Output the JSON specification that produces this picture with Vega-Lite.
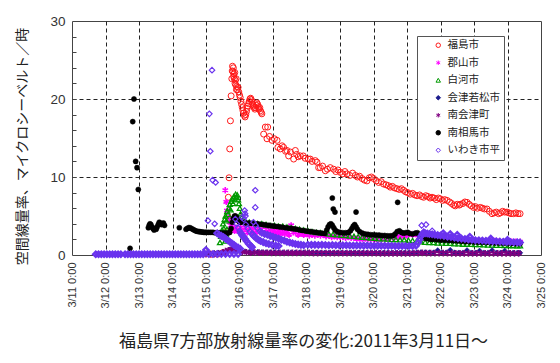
{
"$schema": "https://vega.github.io/schema/vega-lite/v6.json",
"width": 469, "height": 234,
"autosize": {"type": "none"},
"padding": {"left": 72, "top": 21, "right": 19, "bottom": 108},
"background": "white",
"config": {
  "view": {"stroke": "#444", "strokeWidth": 1},
  "font": "Liberation Sans",
  "axis": {"gridColor": "#222", "gridDash": [4, 3], "gridWidth": 1, "domain": false}
},
"data": {"values": [
{"site":"福島市","t":100,"v":0.1},{"site":"福島市","t":104,"v":0.12},{"site":"福島市","t":108,"v":0.3},{"site":"福島市","t":111,"v":3.0},{"site":"福島市","t":111.5,"v":5.0},
{"site":"福島市","t":112,"v":7.4},{"site":"福島市","t":112.5,"v":9.9},{"site":"福島市","t":113,"v":13.6},{"site":"福島市","t":113.5,"v":17.2},{"site":"福島市","t":114,"v":20.4},{"site":"福島市","t":114.5,"v":22.6},{"site":"福島市","t":114.8,"v":23.6},{"site":"福島市","t":115,"v":24.2},{"site":"福島市","t":115.3,"v":23.5},{"site":"福島市","t":115.6,"v":24.0},{"site":"福島市","t":115.8,"v":22.9},{"site":"福島市","t":116,"v":23.2},{"site":"福島市","t":116.3,"v":22.6},{"site":"福島市","t":116.6,"v":23.4},{"site":"福島市","t":116.8,"v":22.0},{"site":"福島市","t":117,"v":22.4},{"site":"福島市","t":117.3,"v":21.8},{"site":"福島市","t":117.6,"v":22.6},{"site":"福島市","t":117.8,"v":21.2},{"site":"福島市","t":118,"v":21.6},{"site":"福島市","t":118.5,"v":21.2},{"site":"福島市","t":119,"v":21.5},{"site":"福島市","t":119.5,"v":20.9},{"site":"福島市","t":120,"v":20.5},{"site":"福島市","t":120.5,"v":20.2},{"site":"福島市","t":121,"v":19.7},{"site":"福島市","t":121.5,"v":19.3},{"site":"福島市","t":122,"v":18.9},{"site":"福島市","t":122.5,"v":18.5},{"site":"福島市","t":123,"v":18.2},{"site":"福島市","t":123.5,"v":17.9},{"site":"福島市","t":124,"v":17.7},{"site":"福島市","t":124.5,"v":18.0},{"site":"福島市","t":125,"v":18.4},{"site":"福島市","t":125.5,"v":18.8},{"site":"福島市","t":126,"v":19.1},{"site":"福島市","t":126.5,"v":19.4},{"site":"福島市","t":127,"v":19.7},{"site":"福島市","t":127.5,"v":20.0},{"site":"福島市","t":128,"v":20.1},{"site":"福島市","t":128.5,"v":19.9},{"site":"福島市","t":129,"v":19.6},{"site":"福島市","t":129.5,"v":19.3},{"site":"福島市","t":130,"v":19.1},{"site":"福島市","t":130.5,"v":18.9},{"site":"福島市","t":131,"v":18.7},{"site":"福島市","t":131.5,"v":18.9},{"site":"福島市","t":132,"v":19.2},{"site":"福島市","t":132.5,"v":19.5},{"site":"福島市","t":133,"v":19.3},{"site":"福島市","t":133.5,"v":19.0},{"site":"福島市","t":134,"v":18.7},{"site":"福島市","t":134.5,"v":18.9},{"site":"福島市","t":135,"v":18.5},{"site":"福島市","t":135.5,"v":18.3},{"site":"福島市","t":136,"v":18.1},
{"site":"福島市","t":137.3,"v":15.5},{"site":"福島市","t":138.5,"v":16.4},{"site":"福島市","t":139.7,"v":14.9},{"site":"福島市","t":140.2,"v":16.4},{"site":"福島市","t":141.5,"v":15.2},{"site":"福島市","t":143.3,"v":14.7},{"site":"福島市","t":145,"v":14.9},{"site":"福島市","t":146.9,"v":14.7},{"site":"福島市","t":147.5,"v":13.8},{"site":"福島市","t":149.2,"v":13.6},{"site":"福島市","t":150.5,"v":14.0},{"site":"福島市","t":151.6,"v":13.8},{"site":"福島市","t":153,"v":13.3},{"site":"福島市","t":154,"v":13.4},{"site":"福島市","t":155.2,"v":12.7},{"site":"福島市","t":156.5,"v":13.2},{"site":"福島市","t":158.8,"v":12.3},{"site":"福島市","t":160,"v":13.4},{"site":"福島市","t":161,"v":12.9},{"site":"福島市","t":162.1,"v":12.6},{"site":"福島市","t":163.6,"v":12.7},{"site":"福島市","t":165.7,"v":12.7},{"site":"福島市","t":167,"v":12.4},{"site":"福島市","t":169.3,"v":12.3},{"site":"福島市","t":170.7,"v":12.3},{"site":"福島市","t":172,"v":12.0},{"site":"福島市","t":174.3,"v":12.1},{"site":"福島市","t":175.5,"v":11.9},{"site":"福島市","t":176.7,"v":11.2},{"site":"福島市","t":177.9,"v":11.2},{"site":"福島市","t":179.5,"v":11.4},{"site":"福島市","t":181.5,"v":10.8},{"site":"福島市","t":183,"v":11.0},{"site":"福島市","t":185,"v":11.2},{"site":"福島市","t":187.4,"v":11.0},{"site":"福島市","t":189,"v":10.7},{"site":"福島市","t":190.5,"v":10.9},{"site":"福島市","t":192.2,"v":10.6},{"site":"福島市","t":194,"v":10.4},{"site":"福島市","t":195.5,"v":10.7},{"site":"福島市","t":197,"v":10.4},{"site":"福島市","t":199,"v":10.2},{"site":"福島市","t":201,"v":10.5},{"site":"福島市","t":203,"v":10.2},{"site":"福島市","t":204.5,"v":10.0},{"site":"福島市","t":206,"v":10.1},{"site":"福島市","t":207.8,"v":9.8},{"site":"福島市","t":209.5,"v":9.6},{"site":"福島市","t":211.3,"v":9.5},{"site":"福島市","t":213,"v":9.9},{"site":"福島市","t":214.5,"v":10.0},{"site":"福島市","t":216.1,"v":9.8},{"site":"福島市","t":218,"v":9.5},{"site":"福島市","t":219.7,"v":9.3},{"site":"福島市","t":221.5,"v":9.4},{"site":"福島市","t":223.2,"v":9.1},{"site":"福島市","t":225,"v":9.0},{"site":"福島市","t":226.5,"v":8.9},{"site":"福島市","t":228,"v":8.7},{"site":"福島市","t":229.5,"v":8.8},{"site":"福島市","t":231,"v":8.6},{"site":"福島市","t":232.8,"v":8.5},{"site":"福島市","t":234.5,"v":8.4},{"site":"福島市","t":236,"v":8.5},{"site":"福島市","t":237.6,"v":8.3},{"site":"福島市","t":239,"v":8.1},{"site":"福島市","t":240.5,"v":8.0},{"site":"福島市","t":242.4,"v":7.8},{"site":"福島市","t":244,"v":7.9},{"site":"福島市","t":245.5,"v":7.7},{"site":"福島市","t":247.2,"v":7.6},{"site":"福島市","t":249,"v":7.7},{"site":"福島市","t":250.5,"v":7.5},{"site":"福島市","t":251.9,"v":7.4},{"site":"福島市","t":253.5,"v":7.6},{"site":"福島市","t":255,"v":7.5},{"site":"福島市","t":256.5,"v":7.3},{"site":"福島市","t":257.9,"v":7.4},{"site":"福島市","t":259.5,"v":7.3},{"site":"福島市","t":261,"v":7.1},{"site":"福島市","t":262.5,"v":7.3},{"site":"福島市","t":263.9,"v":7.2},{"site":"福島市","t":265.5,"v":7.0},{"site":"福島市","t":267,"v":7.1},{"site":"福島市","t":268.7,"v":7.0},{"site":"福島市","t":270.5,"v":6.8},{"site":"福島市","t":272,"v":6.6},{"site":"福島市","t":273.5,"v":6.4},{"site":"福島市","t":274.6,"v":6.3},{"site":"福島市","t":276,"v":6.5},{"site":"福島市","t":277.5,"v":6.4},{"site":"福島市","t":278.2,"v":6.5},{"site":"福島市","t":280,"v":6.6},{"site":"福島市","t":281.5,"v":6.8},{"site":"福島市","t":283,"v":6.75},{"site":"福島市","t":284.5,"v":6.5},{"site":"福島市","t":286,"v":6.3},{"site":"福島市","t":287.7,"v":6.1},{"site":"福島市","t":289,"v":6.2},{"site":"福島市","t":290.5,"v":6.0},{"site":"福島市","t":292.5,"v":6.1},{"site":"福島市","t":294,"v":6.0},{"site":"福島市","t":295.5,"v":5.9},{"site":"福島市","t":297.3,"v":5.9},{"site":"福島市","t":299,"v":5.6},{"site":"福島市","t":300.9,"v":5.3},{"site":"福島市","t":302.5,"v":5.4},{"site":"福島市","t":304,"v":5.5},{"site":"福島市","t":305.6,"v":5.3},{"site":"福島市","t":307,"v":5.4},{"site":"福島市","t":308.5,"v":5.6},{"site":"福島市","t":310,"v":5.5},{"site":"福島市","t":311.6,"v":5.5},{"site":"福島市","t":313,"v":5.4},{"site":"福島市","t":314.5,"v":5.3},{"site":"福島市","t":316.4,"v":5.3},{"site":"福島市","t":318,"v":5.4},{"site":"福島市","t":319.5,"v":5.3},{"site":"福島市","t":321,"v":5.3},
{"site":"郡山市","t":109.8,"v":8.3},{"site":"郡山市","t":110.5,"v":6.8},{"site":"郡山市","t":111,"v":5.7},{"site":"郡山市","t":112,"v":4.8},{"site":"郡山市","t":113,"v":4.2},{"site":"郡山市","t":114,"v":3.8},{"site":"郡山市","t":115,"v":3.6},{"site":"郡山市","t":116.5,"v":3.1},{"site":"郡山市","t":118,"v":3.5},{"site":"郡山市","t":119.5,"v":3.0},{"site":"郡山市","t":121,"v":3.5},{"site":"郡山市","t":122.5,"v":2.9},{"site":"郡山市","t":124,"v":3.5},{"site":"郡山市","t":125.5,"v":2.9},{"site":"郡山市","t":127,"v":3.5},{"site":"郡山市","t":128.5,"v":2.9},{"site":"郡山市","t":130,"v":3.4},{"site":"郡山市","t":131.5,"v":2.9},{"site":"郡山市","t":133,"v":3.4},{"site":"郡山市","t":134.5,"v":2.9},{"site":"郡山市","t":136,"v":3.3},{"site":"郡山市","t":137.5,"v":2.8},{"site":"郡山市","t":139,"v":3.3},{"site":"郡山市","t":140.5,"v":2.8},{"site":"郡山市","t":142,"v":3.2},{"site":"郡山市","t":143.5,"v":2.8},{"site":"郡山市","t":145,"v":3.1},{"site":"郡山市","t":146.5,"v":2.7},{"site":"郡山市","t":148,"v":3.1},{"site":"郡山市","t":149.5,"v":2.7},{"site":"郡山市","t":151,"v":3.0},{"site":"郡山市","t":152.5,"v":2.7},{"site":"郡山市","t":154,"v":3.0},{"site":"郡山市","t":155.5,"v":2.6},{"site":"郡山市","t":157,"v":3.8},{"site":"郡山市","t":158.5,"v":2.9},{"site":"郡山市","t":160,"v":2.9},{"site":"郡山市","t":162,"v":2.6},{"site":"郡山市","t":164,"v":2.8},{"site":"郡山市","t":166,"v":2.6},{"site":"郡山市","t":168,"v":2.7},{"site":"郡山市","t":170,"v":2.5},{"site":"郡山市","t":172,"v":2.6},{"site":"郡山市","t":174,"v":2.5},{"site":"郡山市","t":176,"v":2.6},{"site":"郡山市","t":178,"v":2.5},{"site":"郡山市","t":180,"v":2.6},{"site":"郡山市","t":182,"v":2.4},{"site":"郡山市","t":184,"v":2.5},{"site":"郡山市","t":186,"v":2.3},{"site":"郡山市","t":188,"v":2.4},{"site":"郡山市","t":190,"v":2.3},{"site":"郡山市","t":192,"v":2.3},{"site":"郡山市","t":194,"v":2.3},{"site":"郡山市","t":196,"v":2.2},{"site":"郡山市","t":198,"v":2.3},{"site":"郡山市","t":200,"v":2.2},{"site":"郡山市","t":202,"v":2.2},{"site":"郡山市","t":204,"v":2.1},{"site":"郡山市","t":206,"v":2.1},{"site":"郡山市","t":208,"v":2.05},{"site":"郡山市","t":210,"v":2.1},{"site":"郡山市","t":212,"v":2.0},{"site":"郡山市","t":214,"v":2.1},{"site":"郡山市","t":216,"v":2.0},{"site":"郡山市","t":218,"v":2.05},{"site":"郡山市","t":220,"v":2.0},{"site":"郡山市","t":222,"v":2.05},{"site":"郡山市","t":224,"v":2.0},{"site":"郡山市","t":226,"v":2.1},{"site":"郡山市","t":228,"v":2.2},{"site":"郡山市","t":230,"v":2.2},{"site":"郡山市","t":232,"v":2.3},{"site":"郡山市","t":234,"v":2.3},{"site":"郡山市","t":236,"v":2.3},{"site":"郡山市","t":238,"v":2.4},{"site":"郡山市","t":240,"v":2.5},{"site":"郡山市","t":242,"v":2.7},{"site":"郡山市","t":244,"v":2.6},{"site":"郡山市","t":246,"v":2.7},{"site":"郡山市","t":248,"v":2.5},{"site":"郡山市","t":250,"v":2.4},{"site":"郡山市","t":252,"v":2.3},{"site":"郡山市","t":255,"v":2.3},{"site":"郡山市","t":258,"v":2.2},{"site":"郡山市","t":261,"v":2.2},{"site":"郡山市","t":264,"v":2.1},{"site":"郡山市","t":267,"v":2.1},{"site":"郡山市","t":270,"v":2.0},{"site":"郡山市","t":273,"v":2.0},{"site":"郡山市","t":276,"v":2.0},{"site":"郡山市","t":279,"v":1.95},{"site":"郡山市","t":282,"v":1.95},{"site":"郡山市","t":285,"v":1.9},{"site":"郡山市","t":288,"v":1.9},{"site":"郡山市","t":291,"v":1.85},{"site":"郡山市","t":294,"v":1.85},{"site":"郡山市","t":297,"v":1.8},{"site":"郡山市","t":300,"v":1.8},{"site":"郡山市","t":303,"v":1.8},{"site":"郡山市","t":306,"v":1.75},{"site":"郡山市","t":309,"v":1.75},{"site":"郡山市","t":312,"v":1.7},{"site":"郡山市","t":315,"v":1.7},{"site":"郡山市","t":318,"v":1.7},{"site":"郡山市","t":321,"v":1.7},
{"site":"白河市","t":106,"v":1.6},{"site":"白河市","t":106.8,"v":2.4},{"site":"白河市","t":107.5,"v":3.2},{"site":"白河市","t":108.2,"v":4.0},{"site":"白河市","t":108.8,"v":3.4},{"site":"白河市","t":109.4,"v":4.6},{"site":"白河市","t":109.8,"v":1.8},{"site":"白河市","t":110,"v":5.0},{"site":"白河市","t":110.4,"v":2.6},{"site":"白河市","t":110.6,"v":4.4},{"site":"白河市","t":111,"v":3.3},{"site":"白河市","t":111.2,"v":5.6},{"site":"白河市","t":111.8,"v":5.2},{"site":"白河市","t":112.4,"v":6.0},{"site":"白河市","t":113,"v":6.5},{"site":"白河市","t":113.6,"v":5.8},{"site":"白河市","t":114.2,"v":6.9},{"site":"白河市","t":114.8,"v":7.2},{"site":"白河市","t":115.4,"v":6.6},{"site":"白河市","t":116,"v":7.5},{"site":"白河市","t":116.6,"v":7.2},{"site":"白河市","t":117.2,"v":7.8},{"site":"白河市","t":117.8,"v":7.4},{"site":"白河市","t":118.4,"v":7.7},{"site":"白河市","t":119,"v":7.1},{"site":"白河市","t":119.6,"v":6.6},{"site":"白河市","t":120.2,"v":6.0},{"site":"白河市","t":120.8,"v":5.3},{"site":"白河市","t":121.4,"v":4.8},{"site":"白河市","t":122,"v":4.4},{"site":"白河市","t":122.6,"v":4.3},{"site":"白河市","t":124,"v":4.3},{"site":"白河市","t":127,"v":4.2},{"site":"白河市","t":130,"v":4.1},{"site":"白河市","t":133,"v":4.0},{"site":"白河市","t":136,"v":4.0},{"site":"白河市","t":139,"v":3.9},{"site":"白河市","t":142,"v":3.8},{"site":"白河市","t":145,"v":3.8},{"site":"白河市","t":148,"v":3.7},{"site":"白河市","t":151,"v":3.7},{"site":"白河市","t":154,"v":3.6},{"site":"白河市","t":157,"v":3.5},{"site":"白河市","t":160,"v":3.4},{"site":"白河市","t":163,"v":3.3},{"site":"白河市","t":166,"v":3.2},{"site":"白河市","t":169,"v":3.1},{"site":"白河市","t":172,"v":3.0},{"site":"白河市","t":175,"v":2.9},{"site":"白河市","t":178,"v":2.85},{"site":"白河市","t":181,"v":2.8},{"site":"白河市","t":184,"v":2.7},{"site":"白河市","t":187,"v":2.65},{"site":"白河市","t":190,"v":2.6},{"site":"白河市","t":193,"v":2.55},{"site":"白河市","t":196,"v":2.5},{"site":"白河市","t":199,"v":2.45},{"site":"白河市","t":202,"v":2.4},{"site":"白河市","t":205,"v":2.35},{"site":"白河市","t":208,"v":2.3},{"site":"白河市","t":211,"v":2.25},{"site":"白河市","t":214,"v":2.2},{"site":"白河市","t":217,"v":2.15},{"site":"白河市","t":220,"v":2.1},{"site":"白河市","t":223,"v":2.1},{"site":"白河市","t":226,"v":2.05},{"site":"白河市","t":229,"v":2.0},{"site":"白河市","t":232,"v":2.0},{"site":"白河市","t":235,"v":1.95},{"site":"白河市","t":238,"v":1.95},{"site":"白河市","t":241,"v":1.9},{"site":"白河市","t":244,"v":1.85},{"site":"白河市","t":247,"v":1.75},{"site":"白河市","t":250,"v":1.7},{"site":"白河市","t":253,"v":1.65},{"site":"白河市","t":256,"v":1.6},{"site":"白河市","t":259,"v":1.6},{"site":"白河市","t":262,"v":1.55},{"site":"白河市","t":265,"v":1.55},{"site":"白河市","t":268,"v":1.5},{"site":"白河市","t":271,"v":1.5},{"site":"白河市","t":274,"v":1.45},{"site":"白河市","t":277,"v":1.45},{"site":"白河市","t":280,"v":1.4},{"site":"白河市","t":283,"v":1.4},{"site":"白河市","t":286,"v":1.38},{"site":"白河市","t":289,"v":1.36},{"site":"白河市","t":292,"v":1.34},{"site":"白河市","t":295,"v":1.32},{"site":"白河市","t":298,"v":1.3},{"site":"白河市","t":301,"v":1.28},{"site":"白河市","t":304,"v":1.26},{"site":"白河市","t":307,"v":1.25},{"site":"白河市","t":310,"v":1.24},{"site":"白河市","t":313,"v":1.22},{"site":"白河市","t":316,"v":1.21},{"site":"白河市","t":319,"v":1.2},{"site":"白河市","t":321,"v":1.2},
{"site":"会津若松市","t":96,"v":0.2},{"site":"会津若松市","t":99,"v":0.2},{"site":"会津若松市","t":102,"v":0.25},{"site":"会津若松市","t":105,"v":0.3},{"site":"会津若松市","t":108,"v":0.35},{"site":"会津若松市","t":111,"v":0.5},{"site":"会津若松市","t":113,"v":0.7},{"site":"会津若松市","t":115,"v":0.8},{"site":"会津若松市","t":117,"v":0.75},{"site":"会津若松市","t":119,"v":0.6},{"site":"会津若松市","t":121,"v":0.5},{"site":"会津若松市","t":124,"v":0.45},{"site":"会津若松市","t":127,"v":0.4},{"site":"会津若松市","t":130,"v":0.4},{"site":"会津若松市","t":133,"v":0.38},{"site":"会津若松市","t":136,"v":0.36},{"site":"会津若松市","t":139,"v":0.35},{"site":"会津若松市","t":142,"v":0.35},{"site":"会津若松市","t":145,"v":0.34},{"site":"会津若松市","t":148,"v":0.34},{"site":"会津若松市","t":151,"v":0.33},{"site":"会津若松市","t":154,"v":0.33},{"site":"会津若松市","t":157,"v":0.33},{"site":"会津若松市","t":160,"v":0.32},{"site":"会津若松市","t":163,"v":0.32},{"site":"会津若松市","t":166,"v":0.32},{"site":"会津若松市","t":169,"v":0.31},{"site":"会津若松市","t":172,"v":0.31},{"site":"会津若松市","t":175,"v":0.31},{"site":"会津若松市","t":178,"v":0.3},{"site":"会津若松市","t":181,"v":0.3},{"site":"会津若松市","t":184,"v":0.3},{"site":"会津若松市","t":187,"v":0.3},{"site":"会津若松市","t":190,"v":0.3},{"site":"会津若松市","t":193,"v":0.3},{"site":"会津若松市","t":196,"v":0.29},{"site":"会津若松市","t":199,"v":0.29},{"site":"会津若松市","t":202,"v":0.29},{"site":"会津若松市","t":205,"v":0.29},{"site":"会津若松市","t":208,"v":0.29},{"site":"会津若松市","t":211,"v":0.28},{"site":"会津若松市","t":214,"v":0.28},{"site":"会津若松市","t":217,"v":0.28},{"site":"会津若松市","t":220,"v":0.28},{"site":"会津若松市","t":223,"v":0.28},{"site":"会津若松市","t":226,"v":0.28},{"site":"会津若松市","t":229,"v":0.28},{"site":"会津若松市","t":232,"v":0.28},{"site":"会津若松市","t":235,"v":0.28},{"site":"会津若松市","t":238,"v":0.28},{"site":"会津若松市","t":241,"v":0.28},{"site":"会津若松市","t":244,"v":0.3},{"site":"会津若松市","t":247,"v":0.32},{"site":"会津若松市","t":250,"v":0.35},{"site":"会津若松市","t":253,"v":0.34},{"site":"会津若松市","t":256,"v":0.33},{"site":"会津若松市","t":259,"v":0.32},{"site":"会津若松市","t":262,"v":0.6},{"site":"会津若松市","t":265,"v":0.32},{"site":"会津若松市","t":268,"v":0.31},{"site":"会津若松市","t":271,"v":0.65},{"site":"会津若松市","t":274,"v":0.31},{"site":"会津若松市","t":277,"v":0.3},{"site":"会津若松市","t":280,"v":0.3},{"site":"会津若松市","t":283,"v":0.6},{"site":"会津若松市","t":286,"v":0.3},{"site":"会津若松市","t":289,"v":0.3},{"site":"会津若松市","t":292,"v":0.55},{"site":"会津若松市","t":295,"v":0.3},{"site":"会津若松市","t":298,"v":0.3},{"site":"会津若松市","t":301,"v":0.6},{"site":"会津若松市","t":304,"v":0.29},{"site":"会津若松市","t":307,"v":0.29},{"site":"会津若松市","t":310,"v":0.55},{"site":"会津若松市","t":313,"v":0.29},{"site":"会津若松市","t":316,"v":0.28},{"site":"会津若松市","t":319,"v":0.28},{"site":"会津若松市","t":321,"v":0.28},
{"site":"南会津町","t":96,"v":0.1},{"site":"南会津町","t":99,"v":0.1},{"site":"南会津町","t":102,"v":0.12},{"site":"南会津町","t":105,"v":0.15},{"site":"南会津町","t":108,"v":0.3},{"site":"南会津町","t":110,"v":0.5},{"site":"南会津町","t":112,"v":0.6},{"site":"南会津町","t":114,"v":0.7},{"site":"南会津町","t":116,"v":0.65},{"site":"南会津町","t":118,"v":0.55},{"site":"南会津町","t":120,"v":0.45},{"site":"南会津町","t":122,"v":0.4},{"site":"南会津町","t":125,"v":0.35},{"site":"南会津町","t":128,"v":0.3},{"site":"南会津町","t":131,"v":0.3},{"site":"南会津町","t":134,"v":0.3},{"site":"南会津町","t":137,"v":0.29},{"site":"南会津町","t":140,"v":0.29},{"site":"南会津町","t":143,"v":0.28},{"site":"南会津町","t":146,"v":0.28},{"site":"南会津町","t":149,"v":0.28},{"site":"南会津町","t":152,"v":0.27},{"site":"南会津町","t":155,"v":0.27},{"site":"南会津町","t":158,"v":0.27},{"site":"南会津町","t":161,"v":0.26},{"site":"南会津町","t":164,"v":0.26},{"site":"南会津町","t":167,"v":0.26},{"site":"南会津町","t":170,"v":0.26},{"site":"南会津町","t":173,"v":0.25},{"site":"南会津町","t":176,"v":0.25},{"site":"南会津町","t":179,"v":0.25},{"site":"南会津町","t":182,"v":0.25},{"site":"南会津町","t":185,"v":0.25},{"site":"南会津町","t":188,"v":0.24},{"site":"南会津町","t":191,"v":0.24},{"site":"南会津町","t":194,"v":0.24},{"site":"南会津町","t":197,"v":0.24},{"site":"南会津町","t":200,"v":0.24},{"site":"南会津町","t":203,"v":0.23},{"site":"南会津町","t":206,"v":0.23},{"site":"南会津町","t":209,"v":0.23},{"site":"南会津町","t":212,"v":0.23},{"site":"南会津町","t":215,"v":0.23},{"site":"南会津町","t":218,"v":0.23},{"site":"南会津町","t":221,"v":0.22},{"site":"南会津町","t":224,"v":0.22},{"site":"南会津町","t":227,"v":0.22},{"site":"南会津町","t":230,"v":0.22},{"site":"南会津町","t":233,"v":0.22},{"site":"南会津町","t":236,"v":0.22},{"site":"南会津町","t":239,"v":0.22},{"site":"南会津町","t":242,"v":0.22},{"site":"南会津町","t":245,"v":0.23},{"site":"南会津町","t":248,"v":0.25},{"site":"南会津町","t":251,"v":0.26},{"site":"南会津町","t":254,"v":0.25},{"site":"南会津町","t":257,"v":0.24},{"site":"南会津町","t":260,"v":0.24},{"site":"南会津町","t":263,"v":0.23},{"site":"南会津町","t":266,"v":0.23},{"site":"南会津町","t":269,"v":0.23},{"site":"南会津町","t":272,"v":0.22},{"site":"南会津町","t":275,"v":0.22},{"site":"南会津町","t":278,"v":0.22},{"site":"南会津町","t":281,"v":0.22},{"site":"南会津町","t":284,"v":0.21},{"site":"南会津町","t":287,"v":0.21},{"site":"南会津町","t":290,"v":0.21},{"site":"南会津町","t":293,"v":0.21},{"site":"南会津町","t":296,"v":0.21},{"site":"南会津町","t":299,"v":0.2},{"site":"南会津町","t":302,"v":0.2},{"site":"南会津町","t":305,"v":0.2},{"site":"南会津町","t":308,"v":0.2},{"site":"南会津町","t":311,"v":0.2},{"site":"南会津町","t":314,"v":0.2},{"site":"南会津町","t":317,"v":0.2},{"site":"南会津町","t":320,"v":0.2},
{"site":"南相馬市","t":41.6,"v":0.85},{"site":"南相馬市","t":43.5,"v":17.1},{"site":"南相馬市","t":44.4,"v":20.0},{"site":"南相馬市","t":45.6,"v":12.0},{"site":"南相馬市","t":46.6,"v":11.2},{"site":"南相馬市","t":47.5,"v":8.4},{"site":"南相馬市","t":54.7,"v":3.5},{"site":"南相馬市","t":55.3,"v":3.8},{"site":"南相馬市","t":55.9,"v":4.0},{"site":"南相馬市","t":56.5,"v":3.9},{"site":"南相馬市","t":57.2,"v":3.6},{"site":"南相馬市","t":58,"v":3.4},{"site":"南相馬市","t":58.8,"v":3.2},{"site":"南相馬市","t":59.5,"v":3.4},{"site":"南相馬市","t":60.3,"v":3.3},{"site":"南相馬市","t":61,"v":3.6},{"site":"南相馬市","t":61.8,"v":3.9},{"site":"南相馬市","t":62.5,"v":4.2},{"site":"南相馬市","t":63.2,"v":4.1},{"site":"南相馬市","t":64,"v":3.9},{"site":"南相馬市","t":64.8,"v":4.0},{"site":"南相馬市","t":65.5,"v":4.1},{"site":"南相馬市","t":66.3,"v":3.8},{"site":"南相馬市","t":76.9,"v":3.5},{"site":"南相馬市","t":81.7,"v":3.3},{"site":"南相馬市","t":82.6,"v":3.4},{"site":"南相馬市","t":83.5,"v":3.5},{"site":"南相馬市","t":84.5,"v":3.5},{"site":"南相馬市","t":85.5,"v":3.4},{"site":"南相馬市","t":86.5,"v":3.3},{"site":"南相馬市","t":87.5,"v":3.2},{"site":"南相馬市","t":88.5,"v":3.1},{"site":"南相馬市","t":89.5,"v":3.05},{"site":"南相馬市","t":90.5,"v":3.0},{"site":"南相馬市","t":91.5,"v":3.0},{"site":"南相馬市","t":92.5,"v":2.95},{"site":"南相馬市","t":93.5,"v":2.95},{"site":"南相馬市","t":94.5,"v":2.9},{"site":"南相馬市","t":95.5,"v":2.9},{"site":"南相馬市","t":96.5,"v":2.9},{"site":"南相馬市","t":98,"v":2.9},{"site":"南相馬市","t":99.5,"v":2.9},{"site":"南相馬市","t":101,"v":2.9},{"site":"南相馬市","t":102.5,"v":2.85},{"site":"南相馬市","t":104,"v":2.85},{"site":"南相馬市","t":105.5,"v":2.85},{"site":"南相馬市","t":107,"v":2.8},{"site":"南相馬市","t":108.5,"v":2.8},{"site":"南相馬市","t":110,"v":2.8},{"site":"南相馬市","t":111.5,"v":2.8},{"site":"南相馬市","t":113,"v":2.9},{"site":"南相馬市","t":114,"v":3.4},{"site":"南相馬市","t":114.8,"v":4.2},{"site":"南相馬市","t":115.6,"v":4.7},{"site":"南相馬市","t":116.4,"v":5.0},{"site":"南相馬市","t":117.2,"v":5.0},{"site":"南相馬市","t":118,"v":4.8},{"site":"南相馬市","t":118.8,"v":4.5},{"site":"南相馬市","t":119.6,"v":4.3},{"site":"南相馬市","t":120.5,"v":4.2},{"site":"南相馬市","t":122,"v":4.2},{"site":"南相馬市","t":123.5,"v":4.15},{"site":"南相馬市","t":125,"v":4.1},{"site":"南相馬市","t":127,"v":4.1},{"site":"南相馬市","t":129,"v":4.05},{"site":"南相馬市","t":131,"v":4.0},{"site":"南相馬市","t":133,"v":4.0},{"site":"南相馬市","t":135,"v":3.95},{"site":"南相馬市","t":137,"v":3.9},{"site":"南相馬市","t":139,"v":3.85},{"site":"南相馬市","t":141,"v":3.8},{"site":"南相馬市","t":143,"v":3.75},{"site":"南相馬市","t":145,"v":3.7},{"site":"南相馬市","t":147,"v":3.65},{"site":"南相馬市","t":149,"v":3.6},{"site":"南相馬市","t":151,"v":3.55},{"site":"南相馬市","t":153,"v":3.5},{"site":"南相馬市","t":155,"v":3.45},{"site":"南相馬市","t":157,"v":3.4},{"site":"南相馬市","t":159,"v":3.35},{"site":"南相馬市","t":161,"v":3.3},{"site":"南相馬市","t":163,"v":3.2},{"site":"南相馬市","t":165,"v":3.15},{"site":"南相馬市","t":167,"v":3.1},{"site":"南相馬市","t":169,"v":3.05},{"site":"南相馬市","t":171,"v":3.0},{"site":"南相馬市","t":173,"v":2.95},{"site":"南相馬市","t":175,"v":2.9},{"site":"南相馬市","t":177,"v":2.85},{"site":"南相馬市","t":179,"v":2.8},{"site":"南相馬市","t":181,"v":2.75},{"site":"南相馬市","t":182.5,"v":3.2},{"site":"南相馬市","t":183.5,"v":3.6},{"site":"南相馬市","t":184.5,"v":3.9},{"site":"南相馬市","t":185.5,"v":4.0},{"site":"南相馬市","t":186.5,"v":3.8},{"site":"南相馬市","t":187.5,"v":3.5},{"site":"南相馬市","t":188.5,"v":3.2},{"site":"南相馬市","t":190,"v":3.0},{"site":"南相馬市","t":192,"v":2.9},{"site":"南相馬市","t":194,"v":2.85},{"site":"南相馬市","t":196,"v":2.85},{"site":"南相馬市","t":198,"v":2.9},{"site":"南相馬市","t":199.5,"v":3.1},{"site":"南相馬市","t":200.5,"v":3.4},{"site":"南相馬市","t":201.5,"v":3.7},{"site":"南相馬市","t":202.5,"v":3.9},{"site":"南相馬市","t":203.5,"v":3.6},{"site":"南相馬市","t":204.5,"v":3.3},{"site":"南相馬市","t":206,"v":3.0},{"site":"南相馬市","t":208,"v":2.8},{"site":"南相馬市","t":210,"v":2.7},{"site":"南相馬市","t":212,"v":2.65},{"site":"南相馬市","t":214,"v":2.6},{"site":"南相馬市","t":216,"v":2.6},{"site":"南相馬市","t":218,"v":2.55},{"site":"南相馬市","t":220,"v":2.55},{"site":"南相馬市","t":222,"v":2.5},{"site":"南相馬市","t":224,"v":2.5},{"site":"南相馬市","t":226,"v":2.45},{"site":"南相馬市","t":228,"v":2.45},{"site":"南相馬市","t":230,"v":2.5},{"site":"南相馬市","t":231.5,"v":2.7},{"site":"南相馬市","t":233,"v":3.0},{"site":"南相馬市","t":234.5,"v":3.1},{"site":"南相馬市","t":236,"v":2.9},{"site":"南相馬市","t":237.5,"v":2.8},{"site":"南相馬市","t":239,"v":2.85},{"site":"南相馬市","t":240.5,"v":2.9},{"site":"南相馬市","t":242,"v":2.75},{"site":"南相馬市","t":244,"v":2.7},{"site":"南相馬市","t":246,"v":2.8},{"site":"南相馬市","t":247.5,"v":2.85},{"site":"南相馬市","t":249,"v":2.5},{"site":"南相馬市","t":250.5,"v":2.3},{"site":"南相馬市","t":252,"v":2.2},{"site":"南相馬市","t":254,"v":2.1},{"site":"南相馬市","t":256,"v":2.05},{"site":"南相馬市","t":258,"v":2.0},{"site":"南相馬市","t":261,"v":1.95},{"site":"南相馬市","t":264,"v":1.9},{"site":"南相馬市","t":267,"v":1.88},{"site":"南相馬市","t":270,"v":1.85},{"site":"南相馬市","t":273,"v":1.82},{"site":"南相馬市","t":276,"v":1.8},{"site":"南相馬市","t":279,"v":1.75},{"site":"南相馬市","t":282,"v":1.72},{"site":"南相馬市","t":285,"v":1.7},{"site":"南相馬市","t":288,"v":1.67},{"site":"南相馬市","t":291,"v":1.65},{"site":"南相馬市","t":294,"v":1.62},{"site":"南相馬市","t":297,"v":1.6},{"site":"南相馬市","t":300,"v":1.58},{"site":"南相馬市","t":303,"v":1.56},{"site":"南相馬市","t":306,"v":1.54},{"site":"南相馬市","t":309,"v":1.52},{"site":"南相馬市","t":312,"v":1.5},{"site":"南相馬市","t":315,"v":1.48},{"site":"南相馬市","t":318,"v":1.46},{"site":"南相馬市","t":321,"v":1.45},{"site":"南相馬市","t":186.5,"v":7.3},{"site":"南相馬市","t":187.2,"v":5.9},{"site":"南相馬市","t":188.4,"v":5.5},{"site":"南相馬市","t":203.5,"v":5.5},{"site":"南相馬市","t":233.3,"v":6.75},
{"site":"いわき市平","t":17,"v":0.1},{"site":"いわき市平","t":19,"v":0.1},{"site":"いわき市平","t":21,"v":0.1},{"site":"いわき市平","t":23,"v":0.1},{"site":"いわき市平","t":25,"v":0.1},{"site":"いわき市平","t":27,"v":0.1},{"site":"いわき市平","t":29,"v":0.1},{"site":"いわき市平","t":31,"v":0.1},{"site":"いわき市平","t":33,"v":0.1},{"site":"いわき市平","t":35,"v":0.1},{"site":"いわき市平","t":38,"v":0.1},{"site":"いわき市平","t":40,"v":0.1},{"site":"いわき市平","t":42,"v":0.1},{"site":"いわき市平","t":44,"v":0.1},{"site":"いわき市平","t":46,"v":0.1},{"site":"いわき市平","t":48,"v":0.1},{"site":"いわき市平","t":50,"v":0.1},{"site":"いわき市平","t":52,"v":0.1},{"site":"いわき市平","t":54,"v":0.1},{"site":"いわき市平","t":56,"v":0.1},{"site":"いわき市平","t":58,"v":0.1},{"site":"いわき市平","t":60,"v":0.1},{"site":"いわき市平","t":62,"v":0.1},{"site":"いわき市平","t":64,"v":0.1},{"site":"いわき市平","t":66,"v":0.1},{"site":"いわき市平","t":68,"v":0.1},{"site":"いわき市平","t":70,"v":0.1},{"site":"いわき市平","t":72,"v":0.1},{"site":"いわき市平","t":74,"v":0.1},{"site":"いわき市平","t":76,"v":0.1},{"site":"いわき市平","t":78,"v":0.1},{"site":"いわき市平","t":80,"v":0.1},{"site":"いわき市平","t":82,"v":0.1},{"site":"いわき市平","t":84,"v":0.1},{"site":"いわき市平","t":86,"v":0.1},{"site":"いわき市平","t":88,"v":0.1},{"site":"いわき市平","t":90,"v":0.1},{"site":"いわき市平","t":92,"v":0.1},{"site":"いわき市平","t":94,"v":0.1},{"site":"いわき市平","t":98,"v":0.12},{"site":"いわき市平","t":101,"v":0.12},{"site":"いわき市平","t":104,"v":0.12},{"site":"いわき市平","t":107,"v":0.12},{"site":"いわき市平","t":110,"v":0.12},{"site":"いわき市平","t":113,"v":0.12},{"site":"いわき市平","t":116,"v":0.12},{"site":"いわき市平","t":119,"v":0.12},
{"site":"いわき市平","t":96,"v":0.65},{"site":"いわき市平","t":97.4,"v":4.4},{"site":"いわき市平","t":98.4,"v":18.1},{"site":"いわき市平","t":99.1,"v":13.3},{"site":"いわき市平","t":100.3,"v":23.7},{"site":"いわき市平","t":100.7,"v":9.6},{"site":"いわき市平","t":102.2,"v":4.0},{"site":"いわき市平","t":102.9,"v":9.3},{"site":"いわき市平","t":121.8,"v":4.8},{"site":"いわき市平","t":123.7,"v":5.7},{"site":"いわき市平","t":124,"v":5.3},{"site":"いわき市平","t":124.3,"v":5.0},{"site":"いわき市平","t":131.3,"v":8.3},{"site":"いわき市平","t":131.3,"v":6.1},
{"site":"いわき市平","t":104,"v":2.8},{"site":"いわき市平","t":105.5,"v":2.6},{"site":"いわき市平","t":107,"v":2.45},{"site":"いわき市平","t":108.5,"v":2.3},{"site":"いわき市平","t":110,"v":2.1},{"site":"いわき市平","t":111.5,"v":1.9},{"site":"いわき市平","t":113,"v":1.7},{"site":"いわき市平","t":114.5,"v":1.5},{"site":"いわき市平","t":116,"v":1.3},{"site":"いわき市平","t":117.5,"v":1.1},{"site":"いわき市平","t":119,"v":0.95},{"site":"いわき市平","t":120.5,"v":0.8},
{"site":"いわき市平","t":117,"v":4.6},{"site":"いわき市平","t":118,"v":4.0},{"site":"いわき市平","t":119,"v":3.5},{"site":"いわき市平","t":120,"v":3.1},{"site":"いわき市平","t":121,"v":2.8},{"site":"いわき市平","t":122,"v":2.5},{"site":"いわき市平","t":123,"v":2.3},{"site":"いわき市平","t":124,"v":2.05},{"site":"いわき市平","t":125,"v":1.8},{"site":"いわき市平","t":126.5,"v":1.45},{"site":"いわき市平","t":128,"v":1.2},{"site":"いわき市平","t":129,"v":1.0},
{"site":"いわき市平","t":123,"v":4.6},{"site":"いわき市平","t":124.5,"v":3.9},{"site":"いわき市平","t":126,"v":3.4},{"site":"いわき市平","t":127.5,"v":3.0},{"site":"いわき市平","t":129,"v":2.7},{"site":"いわき市平","t":130.5,"v":2.4},{"site":"いわき市平","t":132,"v":2.15},{"site":"いわき市平","t":133.5,"v":1.95},{"site":"いわき市平","t":135,"v":1.8},{"site":"いわき市平","t":137,"v":1.65},{"site":"いわき市平","t":139,"v":1.5},{"site":"いわき市平","t":141,"v":1.4},{"site":"いわき市平","t":143.5,"v":1.3},{"site":"いわき市平","t":146,"v":1.2},{"site":"いわき市平","t":148,"v":1.15},
{"site":"いわき市平","t":130,"v":4.2},{"site":"いわき市平","t":131.5,"v":3.8},{"site":"いわき市平","t":133,"v":3.4},{"site":"いわき市平","t":134.5,"v":3.05},{"site":"いわき市平","t":136,"v":2.85},{"site":"いわき市平","t":138,"v":2.7},{"site":"いわき市平","t":140,"v":2.6},{"site":"いわき市平","t":142,"v":2.45},{"site":"いわき市平","t":144,"v":2.35},{"site":"いわき市平","t":146,"v":2.2},{"site":"いわき市平","t":148,"v":2.1},{"site":"いわき市平","t":150,"v":1.95},{"site":"いわき市平","t":152,"v":1.85},{"site":"いわき市平","t":154,"v":1.7},{"site":"いわき市平","t":156,"v":1.6},{"site":"いわき市平","t":158,"v":1.5},{"site":"いわき市平","t":160,"v":1.42},{"site":"いわき市平","t":162,"v":1.35},{"site":"いわき市平","t":164,"v":1.3},{"site":"いわき市平","t":166,"v":1.25},
{"site":"いわき市平","t":169,"v":1.32},{"site":"いわき市平","t":171.5,"v":1.3},{"site":"いわき市平","t":174,"v":1.3},{"site":"いわき市平","t":176.5,"v":1.28},{"site":"いわき市平","t":179,"v":1.3},{"site":"いわき市平","t":181.5,"v":1.27},{"site":"いわき市平","t":184,"v":1.26},{"site":"いわき市平","t":186.5,"v":1.28},{"site":"いわき市平","t":189,"v":1.25},{"site":"いわき市平","t":191.5,"v":1.25},{"site":"いわき市平","t":194,"v":1.24},{"site":"いわき市平","t":196.5,"v":1.25},{"site":"いわき市平","t":199,"v":1.23},{"site":"いわき市平","t":201.5,"v":1.22},{"site":"いわき市平","t":204,"v":1.23},{"site":"いわき市平","t":206.5,"v":1.21},{"site":"いわき市平","t":209,"v":1.2},{"site":"いわき市平","t":211.5,"v":1.21},{"site":"いわき市平","t":214,"v":1.2},{"site":"いわき市平","t":216.5,"v":1.19},{"site":"いわき市平","t":219,"v":1.2},{"site":"いわき市平","t":221.5,"v":1.18},{"site":"いわき市平","t":224,"v":1.18},{"site":"いわき市平","t":226.5,"v":1.17},{"site":"いわき市平","t":229,"v":1.18},{"site":"いわき市平","t":231.5,"v":1.16},{"site":"いわき市平","t":234,"v":1.16},{"site":"いわき市平","t":236.5,"v":1.15},{"site":"いわき市平","t":239,"v":1.16},{"site":"いわき市平","t":241.5,"v":1.15},{"site":"いわき市平","t":244,"v":1.15},{"site":"いわき市平","t":246.5,"v":1.2},
{"site":"いわき市平","t":248,"v":1.6},{"site":"いわき市平","t":249,"v":2.0},{"site":"いわき市平","t":250,"v":2.4},{"site":"いわき市平","t":251,"v":2.7},{"site":"いわき市平","t":252,"v":2.9},{"site":"いわき市平","t":253,"v":2.8},{"site":"いわき市平","t":254.5,"v":2.75},{"site":"いわき市平","t":256,"v":2.7},{"site":"いわき市平","t":258,"v":2.65},{"site":"いわき市平","t":260,"v":2.6},{"site":"いわき市平","t":262,"v":2.55},{"site":"いわき市平","t":264,"v":2.5},{"site":"いわき市平","t":266.5,"v":2.45},{"site":"いわき市平","t":269,"v":2.35},{"site":"いわき市平","t":271.5,"v":2.3},{"site":"いわき市平","t":274,"v":2.22},{"site":"いわき市平","t":276.5,"v":2.15},{"site":"いわき市平","t":279,"v":2.1},{"site":"いわき市平","t":281.5,"v":2.05},{"site":"いわき市平","t":284,"v":2.0},{"site":"いわき市平","t":286.5,"v":1.95},{"site":"いわき市平","t":289,"v":1.9},{"site":"いわき市平","t":291.5,"v":1.88},{"site":"いわき市平","t":294,"v":1.85},{"site":"いわき市平","t":296.5,"v":1.82},{"site":"いわき市平","t":299,"v":1.8},{"site":"いわき市平","t":301.5,"v":1.77},{"site":"いわき市平","t":304,"v":1.75},{"site":"いわき市平","t":306.5,"v":1.72},{"site":"いわき市平","t":309,"v":1.7},{"site":"いわき市平","t":311.5,"v":1.68},{"site":"いわき市平","t":314,"v":1.66},{"site":"いわき市平","t":316.5,"v":1.64},{"site":"いわき市平","t":319,"v":1.62},{"site":"いわき市平","t":321,"v":1.6},
{"site":"いわき市平","t":250.5,"v":3.8},{"site":"いわき市平","t":253.6,"v":3.9},{"site":"いわき市平","t":258,"v":3.1},{"site":"いわき市平","t":266,"v":2.8},{"site":"いわき市平","t":271,"v":2.7},{"site":"いわき市平","t":276,"v":2.6},{"site":"いわき市平","t":285,"v":2.35},{"site":"いわき市平","t":300,"v":2.1},{"site":"いわき市平","t":312,"v":1.95}
]},
"encoding": {
  "x": {"field": "t", "type": "quantitative",
    "scale": {"domain": [0, 336], "nice": false, "zero": false},
    "axis": {"values": [0,24,48,72,96,120,144,168,192,216,240,264,288,312,336],
      "labelExpr": "'3/' + (11 + datum.value / 24) + ' 0:00'",
      "labelAngle": 270, "ticks": false, "labelPadding": 7, "labelFontSize": 11, "labelColor": "#333",
      "gridOpacity": {"condition": {"test": "datum.value > 0 && datum.value < 336", "value": 1}, "value": 0},
      "title": "福島県7方部放射線量率の変化:2011年3月11日～",
      "titleFont": "Noto Sans CJK JP", "titleFontSize": 17, "titleFontWeight": "normal", "titleColor": "#222",
      "titleX": 231, "titleY": 86, "titleBaseline": "middle", "titleAlign": "center"}},
  "y": {"field": "v", "type": "quantitative",
    "scale": {"domain": [0, 30], "nice": false},
    "axis": {"values": [0,2,4,6,8,10,12,14,16,18,20,22,24,26,28,30],
      "labelExpr": "datum.value % 10 == 0 ? datum.label : ''",
      "tickSize": -4, "tickColor": "#444",
      "tickOpacity": {"condition": {"test": "datum.value > 0 && datum.value < 30", "value": 1}, "value": 0},
      "labelPadding": 11, "labelFontSize": 13.5, "labelColor": "#333",
      "gridOpacity": {"condition": {"test": "datum.value == 10 || datum.value == 20", "value": 1}, "value": 0},
      "title": "空間線量率、マイクロシーベルト／時",
      "titleFont": "Noto Sans CJK JP", "titleFontSize": 14, "titleFontWeight": "normal", "titleColor": "#222",
      "titleAngle": 270, "titleX": -50, "titleY": 125, "titleBaseline": "middle", "titleAlign": "center"}},
  "fill": {"field": "site", "type": "nominal",
    "scale": {"domain": ["福島市","郡山市","白河市","会津若松市","南会津町","南相馬市","いわき市平"],
      "range": ["transparent","#ff00ff","transparent","#1a1a8c","#800080","#000000","transparent"]},
    "legend": {"title": null, "orient": "none", "legendX": 345, "legendY": 15, "padding": 4, "symbolOffset": 12,
      "rowPadding": 6.5, "labelFont": "Noto Sans CJK JP", "labelFontSize": 10.5, "labelColor": "#222", "labelOffset": 4,
      "symbolSize": 20, "symbolStrokeWidth": 1, "symbolOpacity": 1, "strokeColor": "#555", "fillColor": "white",
      "labelExpr": "datum.label + '\u3000 '"}},
  "stroke": {"field": "site", "type": "nominal",
    "scale": {"domain": ["福島市","郡山市","白河市","会津若松市","南会津町","南相馬市","いわき市平"],
      "range": ["#ff1a1a","#ff00ff","#009900","#1a1a8c","#800080","#000000","#6a33ee"]},
    "legend": {"title": null, "orient": "none", "legendX": 345, "legendY": 15, "padding": 4, "symbolOffset": 12,
      "rowPadding": 6.5, "labelFont": "Noto Sans CJK JP", "labelFontSize": 10.5, "labelColor": "#222", "labelOffset": 4,
      "symbolSize": 20, "symbolStrokeWidth": 1, "symbolOpacity": 1, "strokeColor": "#555", "fillColor": "white",
      "labelExpr": "datum.label + '\u3000 '"}},
  "shape": {"field": "site", "type": "nominal",
    "scale": {"domain": ["福島市","郡山市","白河市","会津若松市","南会津町","南相馬市","いわき市平"],
      "range": ["circle","M0,-1L0,1M-0.87,-0.5L0.87,0.5M-0.87,0.5L0.87,-0.5","triangle-up","diamond","M0,-1L0,1M-0.87,-0.5L0.87,0.5M-0.87,0.5L0.87,-0.5","circle","diamond"]},
    "legend": {"title": null, "orient": "none", "legendX": 345, "legendY": 15, "padding": 4, "symbolOffset": 12,
      "rowPadding": 6.5, "labelFont": "Noto Sans CJK JP", "labelFontSize": 10.5, "labelColor": "#222", "labelOffset": 4,
      "symbolSize": 20, "symbolStrokeWidth": 1, "symbolOpacity": 1, "strokeColor": "#555", "fillColor": "white",
      "labelExpr": "datum.label + '\u3000 '"}}
},
"layer": [
  {"transform": [{"filter": "datum.site == '福島市'"}], "mark": {"type": "point", "size": 36, "strokeWidth": 1, "opacity": 1}},
  {"transform": [{"filter": "datum.site == '郡山市'"}], "mark": {"type": "point", "size": 40, "strokeWidth": 1.6, "opacity": 1}},
  {"transform": [{"filter": "datum.site == '白河市'"}], "mark": {"type": "point", "size": 25, "strokeWidth": 1.3, "opacity": 1}},
  {"transform": [{"filter": "datum.site == '会津若松市'"}], "mark": {"type": "point", "size": 30, "strokeWidth": 0.5, "opacity": 1}},
  {"transform": [{"filter": "datum.site == '南会津町'"}], "mark": {"type": "point", "size": 45, "strokeWidth": 1.6, "opacity": 1}},
  {"transform": [{"filter": "datum.site == '南相馬市'"}], "mark": {"type": "point", "size": 26, "strokeWidth": 0.5, "opacity": 1}},
  {"transform": [{"filter": "datum.site == 'いわき市平' && datum.v >= 3"}], "mark": {"type": "point", "size": 30, "strokeWidth": 1.2, "opacity": 1}},
  {"transform": [{"filter": "datum.site == 'いわき市平' && datum.v < 3"}], "mark": {"type": "point", "size": 28, "strokeWidth": 2.3, "opacity": 1}}
]
}
